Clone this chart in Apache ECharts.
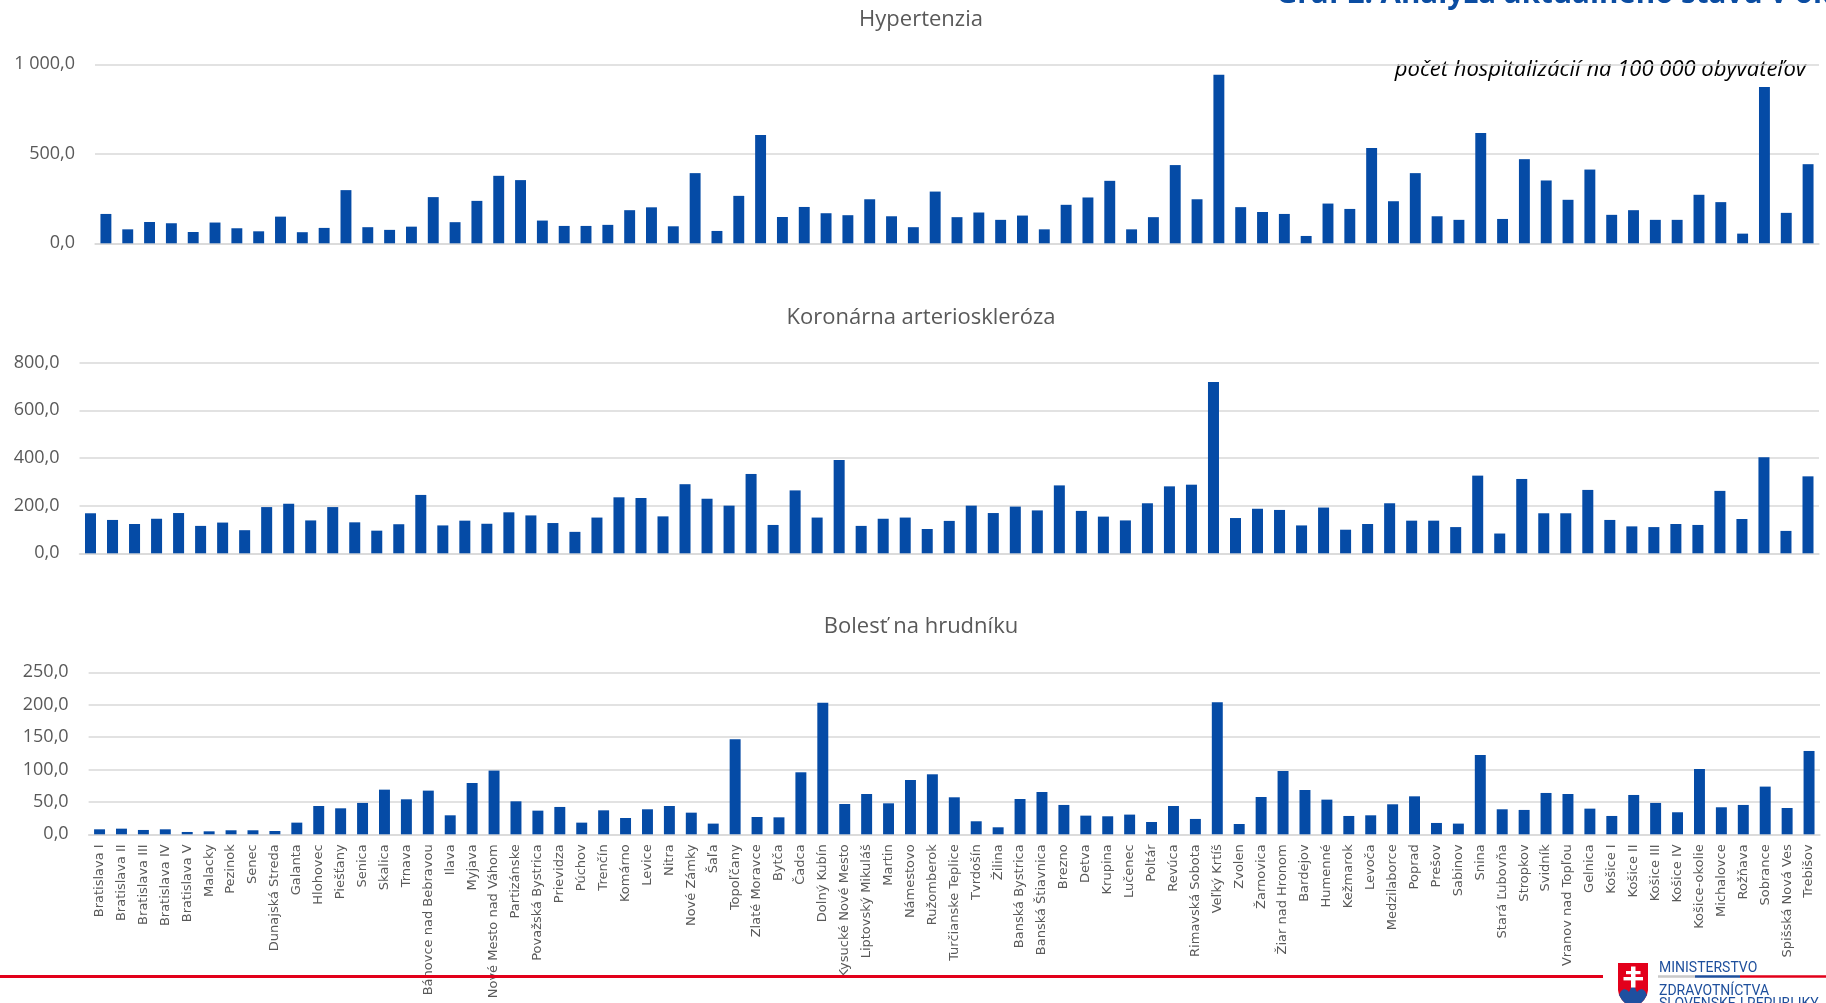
<!DOCTYPE html>
<html>
<head>
<meta charset="utf-8">
<script src="https://cdn.jsdelivr.net/npm/echarts@6/dist/echarts.min.js"></script>
<style>
  html, body { margin: 0; padding: 0; background: #ffffff; }
  #chart { width: 1826px; height: 1003px; }
</style>
</head>
<body>
<div id="chart"></div>
<script>
// Okresy Slovenska (poradie podľa krajov)
const districts = [
  'Bratislava I', 'Bratislava II', 'Bratislava III', 'Bratislava IV', 'Bratislava V',
  'Malacky', 'Pezinok', 'Senec', 'Dunajská Streda', 'Galanta', 'Hlohovec', 'Piešťany',
  'Senica', 'Skalica', 'Trnava', 'Bánovce nad Bebravou', 'Ilava', 'Myjava',
  'Nové Mesto nad Váhom', 'Partizánske', 'Považská Bystrica', 'Prievidza', 'Púchov',
  'Trenčín', 'Komárno', 'Levice', 'Nitra', 'Nové Zámky', 'Šaľa', 'Topoľčany',
  'Zlaté Moravce', 'Bytča', 'Čadca', 'Dolný Kubín', 'Kysucké Nové Mesto',
  'Liptovský Mikuláš', 'Martin', 'Námestovo', 'Ružomberok', 'Turčianske Teplice',
  'Tvrdošín', 'Žilina', 'Banská Bystrica', 'Banská Štiavnica', 'Brezno', 'Detva',
  'Krupina', 'Lučenec', 'Poltár', 'Revúca', 'Rimavská Sobota', 'Veľký Krtíš', 'Zvolen',
  'Žarnovica', 'Žiar nad Hronom', 'Bardejov', 'Humenné', 'Kežmarok', 'Levoča',
  'Medzilaborce', 'Poprad', 'Prešov', 'Sabinov', 'Snina', 'Stará Ľubovňa', 'Stropkov',
  'Svidník', 'Vranov nad Topľou', 'Gelnica', 'Košice I', 'Košice II', 'Košice III',
  'Košice IV', 'Košice-okolie', 'Michalovce', 'Rožňava', 'Sobrance', 'Spišská Nová Ves',
  'Trebišov'
];

// počet hospitalizácií na 100 000 obyvateľov
const hypertenzia = [
  164, 78, 119, 112, 63, 116, 84, 67, 149, 62,
  86, 297, 90, 75, 93, 258, 118, 237, 377, 353,
  127, 97, 97, 103, 185, 201, 95, 392, 69, 265,
  605, 147, 203, 168, 157, 246, 151, 90, 289, 146,
  172, 131, 155, 78, 215, 256, 349, 78, 146, 437,
  246, 942, 202, 175, 164, 41, 222, 192, 532, 235,
  392, 151, 131, 616, 136, 470, 351, 243, 412, 159,
  185, 131, 131, 271, 230, 54, 873, 170, 442
];

const koronarna = [
  168, 140, 123, 145, 169, 115, 129, 97, 194, 208,
  138, 194, 130, 95, 122, 245, 117, 137, 124, 172,
  159, 127, 90, 150, 235, 232, 155, 290, 229, 200,
  333, 119, 264, 150, 392, 115, 145, 150, 102, 136,
  200, 169, 196, 180, 285, 178, 154, 138, 210, 281,
  288, 719, 148, 187, 182, 117, 192, 99, 123, 210,
  137, 137, 110, 326, 83, 312, 168, 168, 266, 140,
  113, 110, 123, 119, 262, 144, 403, 94, 323
];

const bolest = [
  7.7, 8.7, 6.7, 7.7, 3.6, 4.6, 6.2, 6.2, 5.1, 18.0,
  43.7, 40.1, 48.4, 68.9, 54.0, 67.4, 29.3, 79.2, 98.3, 50.9,
  36.5, 42.2, 18.0, 37.0, 25.2, 38.6, 43.7, 33.4, 16.5, 146.6,
  26.7, 26.2, 95.7, 203.2, 46.8, 62.2, 47.8, 83.8, 92.6, 57.1,
  20.1, 10.8, 54.5, 65.3, 45.3, 28.8, 27.8, 30.4, 19.0, 43.7,
  23.7, 203.7, 15.9, 57.6, 97.7, 68.4, 53.5, 28.3, 29.3, 46.3,
  58.6, 17.5, 16.5, 122.4, 38.6, 37.6, 63.8, 62.2, 39.6, 28.3,
  60.7, 48.4, 34.0, 100.8, 41.7, 45.3, 73.6, 40.6, 128.6
];

const panelTitles = ['Hypertenzia', 'Koronárna arterioskleróza', 'Bolesť na hrudníku'];
const unitNote = 'počet hospitalizácií na 100 000 obyvateľov';
const headline = 'Graf 2: Analýza aktuálneho stavu v okresoch';
const ministry = ['MINISTERSTVO', 'ZDRAVOTNÍCTVA', 'SLOVENSKEJ REPUBLIKY'];

const BAR = '#054BA6';
const GRID_LINE = '#D9D9D9';
const TEXT = '#595959';

// "1 000,0" style numbers
function fmt(v) {
  const parts = Number(v).toFixed(1).split('.');
  return parts[0].replace(/\B(?=(\d{3})+(?!\d))/g, ' ') + ',' + parts[1];
}

const panels = [
  { data: hypertenzia, grid: { left: 95, width: 1724, top: 64.3, height: 179 }, max: 1000, interval: 500, labels: false },
  { data: koronarna, grid: { left: 79.5, width: 1739.5, top: 362.7, height: 190.6 }, max: 800, interval: 200, labels: false },
  { data: bolest, grid: { left: 88.6, width: 1731.4, top: 672.3, height: 162 }, max: 250, interval: 50, labels: true }
];

// coat of arms outline
const shieldPts = [[1618, 963], [1648, 963], [1648, 990], [1647, 995], [1644, 1000], [1639, 1005],
  [1633, 1009], [1627, 1005], [1622, 1000], [1619, 995], [1618, 990]];
const hillPts = [[1619, 995], [1621, 991], [1624, 989], [1627, 990], [1629, 992], [1631, 988],
  [1633, 986], [1635, 988], [1637, 992], [1639, 990], [1642, 989], [1645, 991], [1647, 995],
  [1644, 1000], [1639, 1005], [1633, 1009], [1627, 1005], [1622, 1000]];

const chart = echarts.init(document.getElementById('chart'), null, { renderer: 'canvas' });

const option = {
  animation: false,
  backgroundColor: '#ffffff',
  grid: panels.map(p => Object.assign({ containLabel: false }, p.grid)),
  xAxis: panels.map((p, i) => ({
    type: 'category',
    gridIndex: i,
    data: districts,
    boundaryGap: true,
    axisTick: { show: false },
    axisLine: { show: true, lineStyle: { color: GRID_LINE, width: 1.5 } },
    axisLabel: {
      show: p.labels,
      interval: 0,
      rotate: 90,
      margin: 10,
      color: TEXT,
      fontSize: 13,
      fontFamily: 'DejaVu Sans'
    }
  })),
  yAxis: panels.map((p, i) => ({
    type: 'value',
    gridIndex: i,
    min: 0,
    max: p.max,
    interval: p.interval,
    axisLine: { show: false },
    axisTick: { show: false },
    splitLine: { show: true, lineStyle: { color: GRID_LINE, width: 1.5 } },
    axisLabel: {
      margin: 20,
      color: TEXT,
      fontSize: 18,
      fontFamily: 'Open Sans',
      formatter: fmt
    }
  })),
  series: panels.map((p, i) => ({
    type: 'bar',
    name: panelTitles[i],
    xAxisIndex: i,
    yAxisIndex: i,
    data: p.data,
    barWidth: '50%',
    itemStyle: { color: BAR },
    silent: true
  })),
  graphic: [
    // panel titles
    ...panelTitles.map((t, i) => ({
      type: 'text',
      x: 921,
      y: [20, 318, 627][i],
      style: {
        text: t,
        fill: TEXT,
        font: '22px "Open Sans"',
        textAlign: 'center',
        textVerticalAlign: 'middle'
      }
    })),
    // unit note
    {
      type: 'text',
      x: 1806,
      y: 70,
      style: {
        text: unitNote,
        fill: '#000000',
        font: 'italic 22px "Open Sans"',
        textAlign: 'right',
        textVerticalAlign: 'middle'
      }
    },
    // page headline running off the top edge
    {
      type: 'text',
      x: 1276,
      y: -5.5,
      style: {
        text: headline,
        fill: '#0B4DA2',
        font: 'bold 29.5px "Open Sans"',
        textAlign: 'left',
        textVerticalAlign: 'middle'
      }
    },
    // red footer rule
    {
      type: 'line',
      z: 100,
      shape: { x1: 0, y1: 976.5, x2: 1603, y2: 976.5 },
      style: { stroke: '#E2001A', lineWidth: 3 }
    },
    // ministry logo: tricolour rule
    { type: 'line', z: 100, shape: { x1: 1658, y1: 976.5, x2: 1695, y2: 976.5 }, style: { stroke: '#C9C9C9', lineWidth: 2.5 } },
    { type: 'line', z: 100, shape: { x1: 1695, y1: 976.5, x2: 1740, y2: 976.5 }, style: { stroke: '#1E4F9C', lineWidth: 2.5 } },
    { type: 'line', z: 100, shape: { x1: 1740, y1: 976.5, x2: 1826, y2: 976.5 }, style: { stroke: '#E2001A', lineWidth: 2.5 } },
    // coat of arms
    { type: 'polygon', z: 100, shape: { points: shieldPts }, style: { fill: '#E3001B' } },
    { type: 'polygon', z: 101, shape: { points: hillPts }, style: { fill: '#1E50A0' } },
    { type: 'rect', z: 102, shape: { x: 1631, y: 966.5, width: 4.5, height: 21 }, style: { fill: '#ffffff' } },
    { type: 'rect', z: 102, shape: { x: 1626, y: 971, width: 14.5, height: 3.2 }, style: { fill: '#ffffff' } },
    { type: 'rect', z: 102, shape: { x: 1623.5, y: 977, width: 19.5, height: 3.4 }, style: { fill: '#ffffff' } },
    // ministry name
    ...ministry.map((t, i) => ({
      type: 'text',
      z: 100,
      x: 1659,
      y: [968.6, 991, 1004.7][i],
      style: {
        text: t,
        fill: '#1E4F9C',
        font: '14px Roboto',
        textAlign: 'left',
        textVerticalAlign: 'middle'
      }
    }))
  ]
};

chart.setOption(option);
</script>
</body>
</html>
